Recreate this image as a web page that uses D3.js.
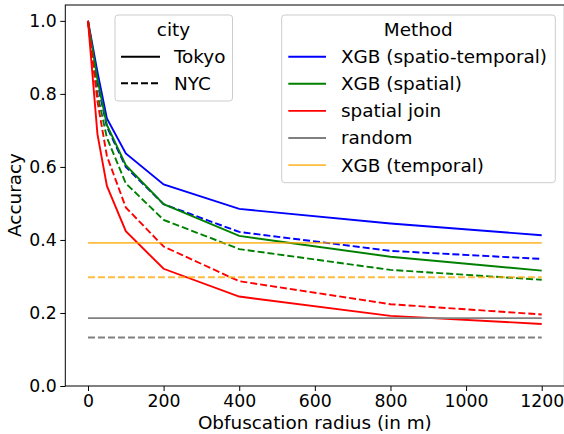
<!DOCTYPE html>
<html>
<head>
<meta charset="utf-8">
<script src="https://cdn.jsdelivr.net/npm/d3@7"></script>
<style>
html,body{margin:0;padding:0;background:#fff;}
svg{display:block;font-family:"DejaVu Sans",sans-serif;}
</style>
</head>
<body>
<svg id="chart" width="564" height="434"></svg>
<script>
// ---- data ----
const radii = [0, 25, 50, 100, 200, 400, 800, 1200];
const tokyoSpatioTemporal = [1.0, 0.86, 0.733, 0.637, 0.552, 0.485, 0.445, 0.413];
const tokyoSpatial        = [1.0, 0.84, 0.715, 0.605, 0.498, 0.411, 0.354, 0.316];
const tokyoSpatialJoin    = [1.0, 0.69, 0.548, 0.424, 0.321, 0.245, 0.192, 0.170];
const nycSpatioTemporal   = [1.0, 0.83, 0.710, 0.600, 0.498, 0.422, 0.370, 0.348];
const nycSpatial          = [1.0, 0.80, 0.680, 0.555, 0.455, 0.375, 0.318, 0.291];
const nycSpatialJoin      = [1.0, 0.78, 0.630, 0.489, 0.382, 0.287, 0.224, 0.196];
const randomBaseline   = {Tokyo: 0.186, NYC: 0.133};
const temporalBaseline = {Tokyo: 0.392, NYC: 0.298};
const methods = ["XGB (spatio-temporal)", "XGB (spatial)", "spatial join", "random", "XGB (temporal)"];
const methodColors = ["#0000ff", "#008000", "#ff0000", "#808080", "#ffa500"];
const cities = ["Tokyo", "NYC"];
const xTicks = [0, 200, 400, 600, 800, 1000, 1200];
const yTicks = [0.0, 0.2, 0.4, 0.6, 0.8, 1.0];

// ---- layout ----
const svg = d3.select("#chart");
const pL = 65.3, pR = 564.4, pT = 5, pB = 386;
const x = d3.scaleLinear().domain([-60, 1260]).range([pL, pR]);
const y = d3.scaleLinear().domain([0, 1.0435]).range([pB, pT]);
const FS = 18.4;   // labels & legends
const TFS = 17.3;  // tick labels
const LW = 1.9;
const dash = "7,3";

// series
const series = [
  {m: 0, city: "Tokyo", vals: tokyoSpatioTemporal},
  {m: 0, city: "NYC", vals: nycSpatioTemporal},
  {m: 1, city: "Tokyo", vals: tokyoSpatial},
  {m: 1, city: "NYC", vals: nycSpatial},
  {m: 2, city: "Tokyo", vals: tokyoSpatialJoin},
  {m: 2, city: "NYC", vals: nycSpatialJoin},
];
const hseries = [
  {m: 3, city: "Tokyo", v: randomBaseline.Tokyo},
  {m: 3, city: "NYC", v: randomBaseline.NYC},
  {m: 4, city: "Tokyo", v: temporalBaseline.Tokyo},
  {m: 4, city: "NYC", v: temporalBaseline.NYC},
];

const line = d3.line().x((d, i) => x(radii[i])).y(d => y(d));
const plot = svg.append("g");
series.forEach(s => {
  plot.append("path").attr("d", line(s.vals)).attr("fill", "none")
    .attr("stroke", methodColors[s.m]).attr("stroke-width", LW)
    .attr("stroke-dasharray", s.city === "NYC" ? dash : null);
});
hseries.forEach(s => {
  plot.append("line").attr("x1", x(radii[0])).attr("x2", x(radii[radii.length - 1]))
    .attr("y1", y(s.v)).attr("y2", y(s.v))
    .attr("stroke", methodColors[s.m]).attr("stroke-width", LW)
    .attr("stroke-opacity", s.m === 4 ? 0.75 : 1)
    .attr("stroke-dasharray", s.city === "NYC" ? dash : null);
});

// axes
const xAxis = d3.axisBottom(x).tickValues(xTicks).tickFormat(d3.format("d")).tickSize(5).tickPadding(4);
const yAxis = d3.axisLeft(y).tickValues(yTicks).tickFormat(d3.format(".1f")).tickSize(5).tickPadding(3.5);
const gx = svg.append("g").attr("transform", `translate(0,${pB})`).call(xAxis);
const gy = svg.append("g").attr("transform", `translate(${pL},0)`).call(yAxis);
[gx, gy].forEach(g => {
  g.select(".domain").remove();
  g.selectAll("text").attr("font-size", TFS).attr("font-family", "DejaVu Sans").attr("fill", "#000");
  g.selectAll("line").attr("stroke", "#000").attr("stroke-width", 1);
});
gx.selectAll("text").attr("dy", "0.71em");
// frame
svg.append("rect").attr("x", pL).attr("y", pT).attr("width", pR - pL).attr("height", pB - pT)
  .attr("fill", "none").attr("stroke", "#000").attr("stroke-width", 1);

svg.append("text").attr("x", (pL + pR) / 2).attr("y", 428.5).attr("text-anchor", "middle")
  .attr("font-size", FS).text("Obfuscation radius (in m)");
svg.append("text").attr("transform", `translate(20.5,195) rotate(-90)`)
  .attr("text-anchor", "middle").attr("font-size", FS).text("Accuracy");

// legend: city
const lc = svg.append("g");
lc.append("rect").attr("x", 115).attr("y", 15).attr("width", 117.5).attr("height", 86)
  .attr("rx", 3).attr("fill", "#fff").attr("fill-opacity", 0.8).attr("stroke", "#cccccc").attr("stroke-width", 1);
lc.append("text").attr("x", 173.5).attr("y", 29.5).attr("dy", "0.35em").attr("text-anchor", "middle")
  .attr("font-size", FS).text("city");
cities.forEach((c, i) => {
  const yy = 56.7 + i * 26.5;
  lc.append("line").attr("x1", 121).attr("x2", 160).attr("y1", yy).attr("y2", yy)
    .attr("stroke", "#000").attr("stroke-width", LW).attr("stroke-dasharray", c === "NYC" ? dash : null);
  lc.append("text").attr("x", 174).attr("y", yy).attr("dy", "0.35em").attr("font-size", FS).text(c);
});

// legend: method
const lm = svg.append("g");
lm.append("rect").attr("x", 281.7).attr("y", 15).attr("width", 273.6).attr("height", 167.7)
  .attr("rx", 3).attr("fill", "#fff").attr("fill-opacity", 0.8).attr("stroke", "#cccccc").attr("stroke-width", 1);
lm.append("text").attr("x", 418.3).attr("y", 29.5).attr("dy", "0.35em").attr("text-anchor", "middle")
  .attr("font-size", FS).text("Method");
methods.forEach((m, i) => {
  const yy = 56.7 + i * 27.1;
  lm.append("line").attr("x1", 288.3).attr("x2", 326).attr("y1", yy).attr("y2", yy)
    .attr("stroke", methodColors[i]).attr("stroke-width", LW)
    .attr("stroke-opacity", i === 4 ? 0.75 : 1);
  lm.append("text").attr("x", 341).attr("y", yy).attr("dy", "0.35em").attr("font-size", FS).text(m);
});
</script>
</body>
</html>
